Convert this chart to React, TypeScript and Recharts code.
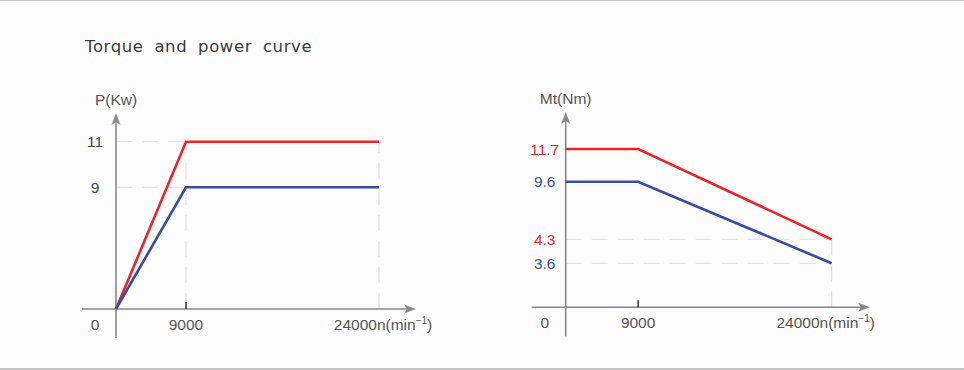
import React from "react";
import { LineChart, Line, XAxis, YAxis, ReferenceLine, ReferenceDot } from "recharts";

// ---------- data ----------
const TITLE = "Torque and power curve";
const SPEED = [0, 9000, 24000];
const SPEED_TICK_LABELS = ["0", "9000", "24000"];
const SPEED_UNIT = "n(min";
const SPEED_UNIT_SUP = "−1";
const POWER_LABEL = "P(Kw)";
const POWER_HIGH = [0, 11, 11];
const POWER_LOW = [0, 9, 9];
const POWER_TICKS = [9, 11];
const TORQUE_LABEL = "Mt(Nm)";
const TORQUE_HIGH = [11.7, 11.7, 4.3];
const TORQUE_LOW = [9.6, 9.6, 3.6];
const TORQUE_TICKS = [3.6, 4.3, 9.6, 11.7];

// ---------- style / layout ----------
const RED = "#e8252b";
const BLUE = "#3a4ba2";
const AXIS = "#888888";
const GUIDE = "#dcdcdc";
const TEXT = "#555555";
const NUM_FONT = "'Liberation Sans', Arial, sans-serif";
const NUM_SIZE = 15.5;

// schematic (non-uniform) axis layout: fraction of axis length at each tick value
const SPEED_AXIS_MAX = 27500;
const POWER_AXIS_MAX = 13;
const TORQUE_AXIS_MAX = 14;
const POWER_SPEED_FRAC = [0.2333, 0.8767];
const TORQUE_SPEED_FRAC = [0.238, 0.874];
const POWER_FRAC = [0.621, 0.8536];
const TORQUE_FRAC = [0.2253, 0.348, 0.643, 0.8105];

function schematicScale(stops: number[], fracs: number[]): any {
  const build = (dom: number[], rng: number[]): any => {
    let d = dom.slice();
    let r = rng.slice();
    const s: any = (v: number) => {
      const kv = [d[0], ...stops, d[d.length - 1]];
      const kf = [0, ...fracs, 1];
      let i = 0;
      while (i < kv.length - 2 && v > kv[i + 1]) i++;
      const span = kv[i + 1] - kv[i];
      const t = span === 0 ? 0 : (v - kv[i]) / span;
      const f = kf[i] + t * (kf[i + 1] - kf[i]);
      return r[0] + f * (r[r.length - 1] - r[0]);
    };
    s.domain = (x?: number[]) => {
      if (x === undefined) return d.slice();
      d = x.slice();
      return s;
    };
    s.range = (x?: number[]) => {
      if (x === undefined) return r.slice();
      r = x.slice();
      return s;
    };
    s.copy = () => build(d, r);
    s.ticks = () => [d[0], ...stops, d[d.length - 1]];
    s.tickFormat = () => (v: any) => String(v);
    s.nice = () => s;
    s.clamp = (c?: boolean) => (c === undefined ? false : s);
    s.invert = (px: number) => {
      const kv = [d[0], ...stops, d[d.length - 1]];
      const kf = [0, ...fracs, 1];
      const f = (px - r[0]) / (r[r.length - 1] - r[0]);
      let i = 0;
      while (i < kf.length - 2 && f > kf[i + 1]) i++;
      const t = (f - kf[i]) / (kf[i + 1] - kf[i]);
      return kv[i] + t * (kv[i + 1] - kv[i]);
    };
    return s;
  };
  return build([0, 1], [0, 1]);
}

const yAxisShape = (label: string) => (p: any) => {
  const x = p.x1;
  const top = Math.min(p.y1, p.y2);
  const bottom = Math.max(p.y1, p.y2);
  return (
    <g>
      <line x1={x} y1={top + 6} x2={x} y2={bottom + 29} stroke={AXIS} strokeWidth={1.6} />
      <path d={`M${x},${top} L${x + 4.5},${top + 12} L${x},${top + 9} L${x - 4.5},${top + 12} Z`} fill={AXIS} />
      <text x={x} y={top - 8} textAnchor="middle" fill={TEXT} fontSize={NUM_SIZE} fontFamily={NUM_FONT}>
        {label}
      </text>
    </g>
  );
};

const xAxisShape = (p: any) => {
  const y = p.y1;
  const left = Math.min(p.x1, p.x2);
  const right = Math.max(p.x1, p.x2);
  return (
    <g>
      <line x1={left - 34} y1={y} x2={right - 6} y2={y} stroke={AXIS} strokeWidth={1.6} />
      <path d={`M${right},${y} L${right - 12},${y - 4.5} L${right - 9},${y} L${right - 12},${y + 4.5} Z`} fill={AXIS} />
    </g>
  );
};

const tickMark = (p: any) => (
  <line x1={p.cx} y1={p.cy - 7} x2={p.cx} y2={p.cy} stroke="#333333" strokeWidth={1.5} />
);

const SpeedTick = (lastShift: number) => (props: any) => {
  const { x, y, payload } = props;
  const i = SPEED.indexOf(payload.value);
  const isZero = i === 0;
  const isLast = i === SPEED.length - 1;
  return (
    <text
      x={isZero ? x - 21 : x + (isLast ? lastShift : 0)}
      y={y + 21}
      textAnchor="middle"
      fill={TEXT}
      fontSize={NUM_SIZE}
      fontFamily={NUM_FONT}
    >
      {SPEED_TICK_LABELS[i]}
      {isLast ? SPEED_UNIT : null}
      {isLast ? (
        <tspan fontSize={10} dy={-6}>
          {SPEED_UNIT_SUP}
        </tspan>
      ) : null}
      {isLast ? <tspan dy={6}>)</tspan> : null}
    </text>
  );
};

const ValueTick = (colorOf: (v: number) => string) => (props: any) => {
  const { x, y, payload } = props;
  return (
    <text x={x - 21} y={y} dy="0.36em" textAnchor="middle" fill={colorOf(payload.value)} fontSize={NUM_SIZE} fontFamily={NUM_FONT}>
      {String(payload.value)}
    </text>
  );
};

const powerData = SPEED.map((s, i) => ({ speed: s, high: POWER_HIGH[i], low: POWER_LOW[i] }));
const torqueData = SPEED.map((s, i) => ({ speed: s, high: TORQUE_HIGH[i], low: TORQUE_LOW[i] }));

// guide segments derived from the data
const powerVGuides = SPEED.slice(1).map((s, k) => ({
  x: s,
  y: Math.max(POWER_HIGH[k + 1], POWER_LOW[k + 1]),
}));
const powerHGuides = POWER_TICKS.map((v) => {
  const idx = POWER_HIGH.indexOf(v) >= 0 ? POWER_HIGH.indexOf(v) : POWER_LOW.indexOf(v);
  return { y: v, x: SPEED[idx] };
});
const last = SPEED.length - 1;
const torqueHGuides = [TORQUE_HIGH[last], TORQUE_LOW[last]].map((v) => ({ y: v, x: SPEED[last] }));
const torqueVGuides = [{ x: SPEED[last], y: Math.max(TORQUE_HIGH[last], TORQUE_LOW[last]) }];

const powerColor = () => "#444444";
const torqueColor = (v: number) => (TORQUE_HIGH.includes(v) ? RED : BLUE);

function PowerChart() {
  return (
    <LineChart width={482} height={370} data={powerData} margin={{ top: 113, right: 66, bottom: 31, left: 76 }}>
      <XAxis
        dataKey="speed"
        type="number"
        domain={[0, SPEED_AXIS_MAX]}
        scale={schematicScale(SPEED.slice(1), POWER_SPEED_FRAC)}
        ticks={SPEED}
        interval={0}
        axisLine={false}
        tickLine={false}
        tickSize={0}
        tickMargin={0}
        height={30}
        tick={SpeedTick(4)}
      />
      <YAxis
        type="number"
        domain={[0, POWER_AXIS_MAX]}
        scale={schematicScale(POWER_TICKS, POWER_FRAC)}
        ticks={POWER_TICKS}
        interval={0}
        axisLine={false}
        tickLine={false}
        tickSize={0}
        tickMargin={0}
        width={40}
        tick={ValueTick(powerColor)}
      />
      {powerHGuides.map((g, i) => (
        <ReferenceLine key={"h" + i} segment={[{ x: 0, y: g.y }, { x: g.x, y: g.y }]} stroke={GUIDE} strokeDasharray="16 10" ifOverflow="visible" />
      ))}
      {powerVGuides.map((g, i) => (
        <ReferenceLine key={"v" + i} segment={[{ x: g.x, y: 0 }, { x: g.x, y: g.y }]} stroke={GUIDE} strokeDasharray="16 10" ifOverflow="visible" />
      ))}
      <ReferenceLine x={0} ifOverflow="visible" shape={yAxisShape(POWER_LABEL)} />
      <ReferenceLine y={0} ifOverflow="visible" shape={xAxisShape} />
      <ReferenceDot x={SPEED[1]} y={0} ifOverflow="visible" shape={tickMark} />
      <Line dataKey="high" stroke={RED} strokeWidth={2.6} dot={false} isAnimationActive={false} type="linear" />
      <Line dataKey="low" stroke={BLUE} strokeWidth={2.6} dot={false} isAnimationActive={false} type="linear" />
    </LineChart>
  );
}

function TorqueChart() {
  return (
    <LineChart width={482} height={370} data={torqueData} margin={{ top: 112, right: 94, bottom: 32.7, left: 43.7 }}>
      <XAxis
        dataKey="speed"
        type="number"
        domain={[0, SPEED_AXIS_MAX]}
        scale={schematicScale(SPEED.slice(1), TORQUE_SPEED_FRAC)}
        ticks={SPEED}
        interval={0}
        axisLine={false}
        tickLine={false}
        tickSize={0}
        tickMargin={0}
        height={30}
        tick={SpeedTick(-6)}
      />
      <YAxis
        type="number"
        domain={[0, TORQUE_AXIS_MAX]}
        scale={schematicScale(TORQUE_TICKS, TORQUE_FRAC)}
        ticks={TORQUE_TICKS}
        interval={0}
        axisLine={false}
        tickLine={false}
        tickSize={0}
        tickMargin={0}
        width={40}
        tick={ValueTick(torqueColor)}
      />
      {torqueHGuides.map((g, i) => (
        <ReferenceLine key={"h" + i} segment={[{ x: 0, y: g.y }, { x: g.x, y: g.y }]} stroke={GUIDE} strokeDasharray="16 10" ifOverflow="visible" />
      ))}
      {torqueVGuides.map((g, i) => (
        <ReferenceLine key={"v" + i} segment={[{ x: g.x, y: 0 }, { x: g.x, y: g.y }]} stroke={GUIDE} strokeDasharray="16 10" ifOverflow="visible" />
      ))}
      <ReferenceLine x={0} ifOverflow="visible" shape={yAxisShape(TORQUE_LABEL)} />
      <ReferenceLine y={0} ifOverflow="visible" shape={xAxisShape} />
      <ReferenceDot x={SPEED[1]} y={0} ifOverflow="visible" shape={tickMark} />
      <Line dataKey="high" stroke={RED} strokeWidth={2.6} dot={false} isAnimationActive={false} type="linear" />
      <Line dataKey="low" stroke={BLUE} strokeWidth={2.6} dot={false} isAnimationActive={false} type="linear" />
    </LineChart>
  );
}

export default function App() {
  return (
    <div
      style={{
        position: "absolute",
        left: 0,
        top: 0,
        width: 964,
        height: 370,
        boxSizing: "border-box",
        background: "#fcfcfc",
        borderTop: "1px solid #c8c8c8",
        borderBottom: "2px solid #c4c4c4",
        overflow: "hidden",
      }}
    >
      <div
        style={{
          position: "absolute",
          left: 85,
          top: 38,
          fontFamily: "'DejaVu Sans', sans-serif",
          fontSize: 16.5,
          lineHeight: "16.5px",
          letterSpacing: 0.6,
          wordSpacing: 5,
          color: "#3a3a3a",
          whiteSpace: "nowrap",
        }}
      >
        {TITLE}
      </div>
      <div style={{ position: "absolute", left: 0, top: -1 }}>
        <PowerChart />
      </div>
      <div style={{ position: "absolute", left: 482, top: -1 }}>
        <TorqueChart />
      </div>
    </div>
  );
}
